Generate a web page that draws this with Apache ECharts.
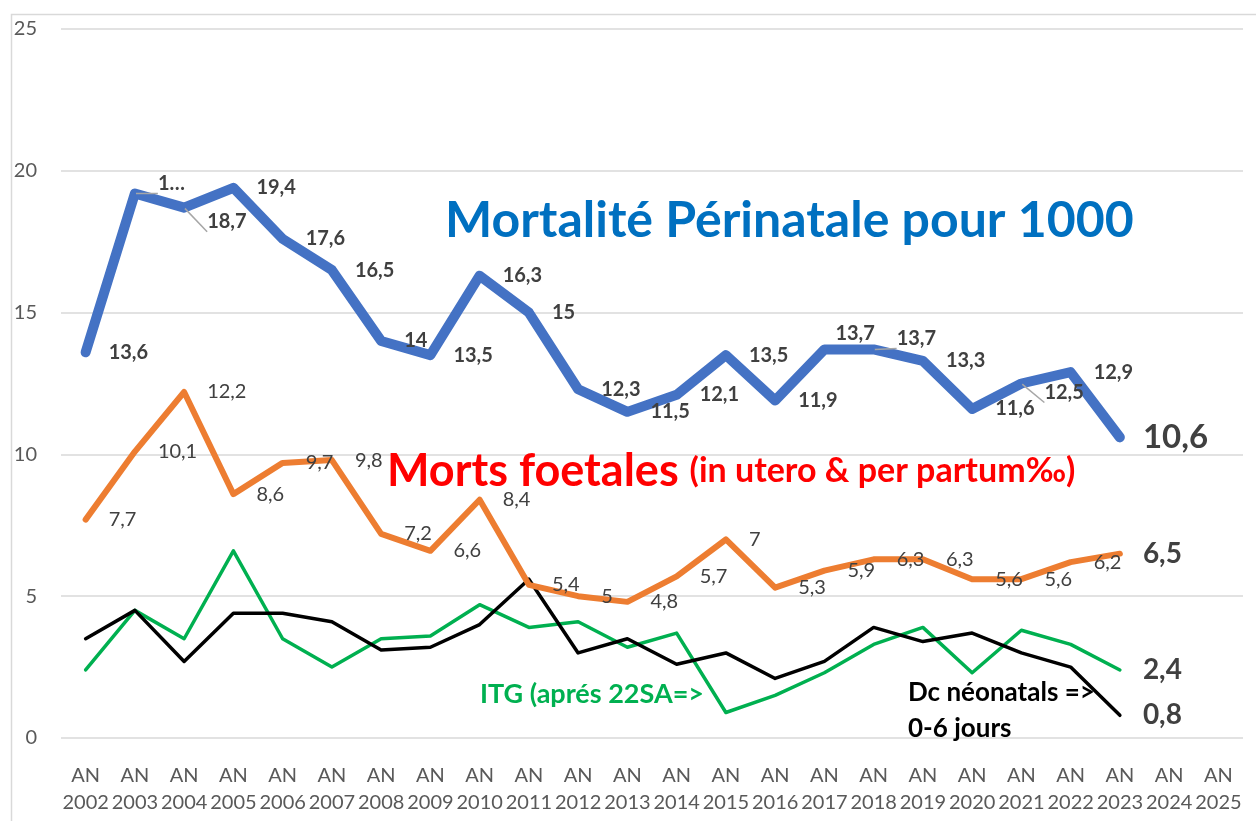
<!DOCTYPE html>
<html>
<head>
<meta charset="utf-8">
<script src="https://cdn.jsdelivr.net/npm/echarts@6/dist/echarts.min.js"></script>
<style>
  html, body { margin: 0; padding: 0; background: #fff; }
  #chart { width: 1256px; height: 821px; }
</style>
</head>
<body>
<div id="chart"></div>
<script>
// ---- data ----
const years = ['2002','2003','2004','2005','2006','2007','2008','2009','2010','2011','2012','2013',
               '2014','2015','2016','2017','2018','2019','2020','2021','2022','2023','2024','2025'];
const categories = years.map(y => 'AN\n' + y);
const perinatale = [13.6,19.2,18.7,19.4,17.6,16.5,14,13.5,16.3,15,12.3,11.5,12.1,13.5,11.9,13.7,13.7,13.3,11.6,12.5,12.9,10.6];
const foetales   = [7.7,10.1,12.2,8.6,9.7,9.8,7.2,6.6,8.4,5.4,5,4.8,5.7,7,5.3,5.9,6.3,6.3,5.6,5.6,6.2,6.5];
const itg        = [2.4,4.5,3.5,6.6,3.5,2.5,3.5,3.6,4.7,3.9,4.1,3.2,3.7,0.9,1.5,2.3,3.3,3.9,2.3,3.8,3.3,2.4];
const neonatals  = [3.5,4.5,2.7,4.4,4.4,4.1,3.1,3.2,4.0,5.6,3.0,3.5,2.6,3.0,2.1,2.7,3.9,3.4,3.7,3.0,2.5,0.8];
const yTicks = { min: 0, max: 25, interval: 5 };

const FONT = 'Lato, "Open Sans", sans-serif';
const fmt = v => String(v).replace('.', ',');
const labelColor = '#404040';

// label tweaks (style only)
const blueTweaks = {
  1:  { offset: [0, -10], text: '1…', line: true },
  2:  { offset: [0, 14], line: true },
  15: { offset: [-12, -16] },
  16: { offset: [0, -11], line: true },
  19: { offset: [0, 9], line: true }
};

function buildData(values, opts) {
  const last = values.length - 1;
  return values.map((v, i) => {
    const item = { value: v };
    const tw = (opts.tweaks || {})[i];
    if (i === last) {
      item.label = { show: true, fontSize: opts.endSize, fontWeight: 'bold', distance: 22, formatter: fmt(v) };
    } else if (!opts.allLabels) {
      item.label = { show: false };
    } else if (tw) {
      item.label = { offset: tw.offset, formatter: tw.text || fmt(v) };
      if (tw.line) item.labelLine = { show: true, lineStyle: { color: '#a6a6a6', width: 1.5 } };
    }
    return item;
  });
}

function lineSeries(name, values, color, width, opts) {
  return {
    name: name,
    type: 'line',
    data: buildData(values, opts),
    symbol: 'circle',
    symbolSize: 2,
    showSymbol: true,
    itemStyle: { color: color },
    lineStyle: { color: color, width: width, cap: 'round', join: 'round' },
    label: {
      show: true,
      position: 'right',
      distance: 22,
      color: labelColor,
      fontFamily: FONT,
      fontSize: 20,
      fontWeight: opts.bold ? 'bold' : 'normal',
      formatter: p => fmt(p.value)
    },
    emphasis: { disabled: true },
    animation: false,
    z: opts.z
  };
}

const chart = echarts.init(document.getElementById('chart'));
chart.setOption({
  backgroundColor: '#fff',
  animation: false,
  grid: { left: 61, right: 13, top: 29, bottom: 83, containLabel: false },
  xAxis: {
    type: 'category',
    data: categories,
    boundaryGap: true,
    axisLine: { show: false },
    axisTick: { show: false },
    axisLabel: {
      interval: 0, color: '#595959', fontFamily: FONT, fontSize: 20,
      lineHeight: 27, margin: 24
    }
  },
  yAxis: {
    type: 'value',
    min: yTicks.min, max: yTicks.max, interval: yTicks.interval,
    axisLine: { show: false },
    axisTick: { show: false },
    splitLine: { lineStyle: { color: '#D9D9D9', width: 1.5 } },
    axisLabel: { color: '#595959', fontFamily: FONT, fontSize: 20, margin: 24 }
  },
  series: [
    lineSeries('ITG', itg, '#00B050', 3.5, { allLabels: false, endSize: 28, z: 3 }),
    lineSeries('Dc néonatals', neonatals, '#000000', 3.5, { allLabels: false, endSize: 28, z: 4 }),
    lineSeries('Morts foetales', foetales, '#ED7D31', 6, { allLabels: true, endSize: 28, z: 5 }),
    lineSeries('Mortalité Périnatale', perinatale, '#4472C4', 10, { allLabels: true, bold: true, endSize: 33, tweaks: blueTweaks, z: 6 })
  ],
  graphic: [
    { type: 'rect', left: 9, top: 12, shape: { width: 1300, height: 900 }, style: { fill: 'none', stroke: '#D9D9D9', lineWidth: 1.5 }, silent: true },
    { type: 'text', x: 445, y: 221, style: { text: 'Mortalité Périnatale pour 1000', fill: '#0070C0', font: 'bold 50px ' + FONT, verticalAlign: 'middle' }, z: 10 },
    { type: 'text', x: 387, y: 471, style: {
        text: '{a|Morts foetales }{b|(in utero & per partum‰)}',
        verticalAlign: 'middle',
        rich: {
          a: { fill: '#FF0000', fontFamily: FONT, fontWeight: 'bold', fontSize: 45 },
          b: { fill: '#FF0000', fontFamily: FONT, fontWeight: 'bold', fontSize: 34 }
        }
      }, z: 10 },
    { type: 'text', x: 480, y: 694, style: { text: 'ITG (aprés 22SA=>', fill: '#00B050', font: 'bold 27px ' + FONT, verticalAlign: 'middle' }, z: 10 },
    { type: 'text', x: 908, y: 693, style: { text: 'Dc néonatals =>', fill: '#000000', font: 'bold 26px ' + FONT, verticalAlign: 'middle' }, z: 10 },
    { type: 'text', x: 908, y: 729, style: { text: '0-6 jours', fill: '#000000', font: 'bold 26px ' + FONT, verticalAlign: 'middle' }, z: 10 }
  ]
});
</script>
</body>
</html>
